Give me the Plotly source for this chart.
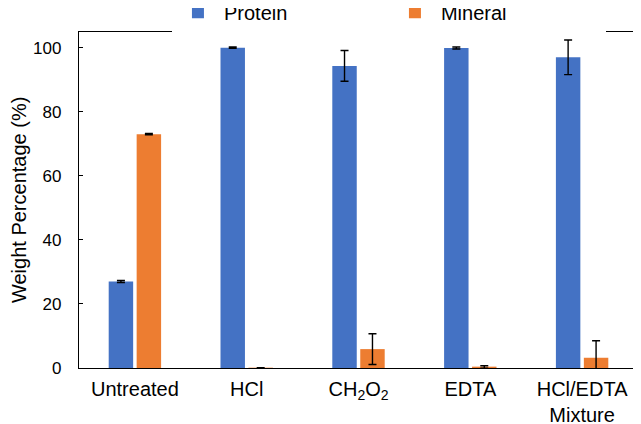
import plotly.graph_objects as go

treatments = ["Untreated", "HCl", "CH<sub>2</sub>O<sub>2</sub>", "EDTA", "HCl/EDTA<br>Mixture"]
protein = [27.0, 100.0, 94.3, 99.9, 97.0]
protein_err = [0.3, 0.2, 4.8, 0.3, 5.4]
mineral = [73.0, 0.1, 5.9, 0.3, 3.2]
mineral_err = [0.2, 0.0, 4.8, 0.4, 5.3]

blue = "#4472C4"
orange = "#ED7D31"

fig = go.Figure()
fig.add_trace(go.Bar(x=treatments, y=protein, name="Protein",
                     marker=dict(color=blue, line=dict(width=0)),
                     error_y=dict(type="data", array=protein_err, color="black",
                                  thickness=1.4, width=4)))
fig.add_trace(go.Bar(x=treatments, y=mineral, name="Mineral",
                     marker=dict(color=orange, line=dict(width=0)),
                     error_y=dict(type="data", array=mineral_err, color="black",
                                  thickness=1.4, width=4)))

# page body keeps its default 8px margin, so the figure is 8px smaller
# and the margins are shifted to line up with the window
fig.update_layout(
    width=633, height=416,
    margin=dict(l=71, r=3, t=23, b=56),
    plot_bgcolor="white", paper_bgcolor="white",
    barmode="group", bargap=0.5, bargroupgap=0.125,
    font=dict(family="Liberation Sans, Arial, sans-serif", size=17, color="black"),
    legend=dict(orientation="h", xref="container", yref="container",
                x=0.259, y=0.99, xanchor="left", yanchor="middle",
                font=dict(size=20), entrywidth=160, itemwidth=42),
)
fig.update_xaxes(showline=True, linecolor="black", linewidth=1.3, mirror=True,
                 automargin=False, ticks="", tickfont=dict(size=20),
                 ticklabelstandoff=3)
fig.update_yaxes(range=[0, 105], tickvals=[0, 20, 40, 60, 80, 100],
                 showline=True, linecolor="black", linewidth=1.3, mirror=True,
                 automargin=False, ticks="inside", ticklen=4, tickwidth=1.3,
                 tickcolor="black", showgrid=False, zeroline=False,
                 tickfont=dict(size=17), ticklabelstandoff=13,
                 title=dict(text="Weight Percentage (%)", font=dict(size=20), standoff=6))

fig.write_html("out.html", config={"displayModeBar": False})
